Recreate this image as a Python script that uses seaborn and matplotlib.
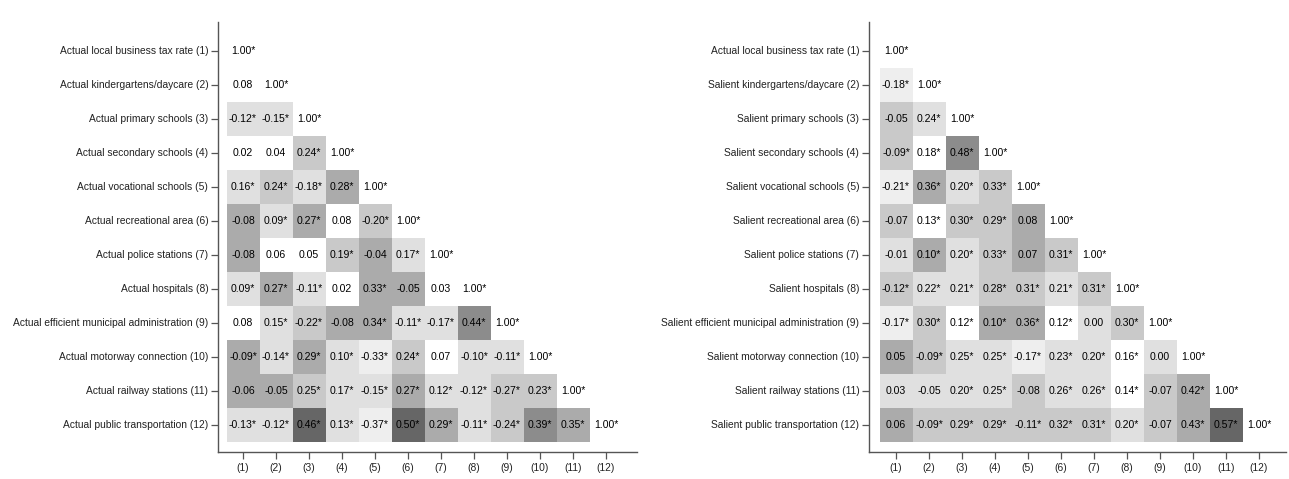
import numpy as np
import pandas as pd
import seaborn as sns
import matplotlib.pyplot as plt
from matplotlib.colors import ListedColormap

sns.set_style("white")
plt.rcParams['font.family'] = ['Liberation Sans', 'DejaVu Sans']

# variable names
actual_labels = [
    "Actual local business tax rate (1)",
    "Actual kindergartens/daycare (2)",
    "Actual primary schools (3)",
    "Actual secondary schools (4)",
    "Actual vocational schools (5)",
    "Actual recreational area (6)",
    "Actual police stations (7)",
    "Actual hospitals (8)",
    "Actual efficient municipal administration (9)",
    "Actual motorway connection (10)",
    "Actual railway stations (11)",
    "Actual public transportation (12)",
]
salient_labels = [
    "Actual local business tax rate (1)",
    "Salient kindergartens/daycare (2)",
    "Salient primary schools (3)",
    "Salient secondary schools (4)",
    "Salient vocational schools (5)",
    "Salient recreational area (6)",
    "Salient police stations (7)",
    "Salient hospitals (8)",
    "Salient efficient municipal administration (9)",
    "Salient motorway connection (10)",
    "Salient railway stations (11)",
    "Salient public transportation (12)",
]
col_labels = [f"({i})" for i in range(1, 13)]

# lower triangle correlations (* = significant)
actual_corr = [
    ["1.00*"],
    ["0.08", "1.00*"],
    ["-0.12*", "-0.15*", "1.00*"],
    ["0.02", "0.04", "0.24*", "1.00*"],
    ["0.16*", "0.24*", "-0.18*", "0.28*", "1.00*"],
    ["-0.08", "0.09*", "0.27*", "0.08", "-0.20*", "1.00*"],
    ["-0.08", "0.06", "0.05", "0.19*", "-0.04", "0.17*", "1.00*"],
    ["0.09*", "0.27*", "-0.11*", "0.02", "0.33*", "-0.05", "0.03", "1.00*"],
    ["0.08", "0.15*", "-0.22*", "-0.08", "0.34*", "-0.11*", "-0.17*", "0.44*", "1.00*"],
    ["-0.09*", "-0.14*", "0.29*", "0.10*", "-0.33*", "0.24*", "0.07", "-0.10*", "-0.11*", "1.00*"],
    ["-0.06", "-0.05", "0.25*", "0.17*", "-0.15*", "0.27*", "0.12*", "-0.12*", "-0.27*", "0.23*", "1.00*"],
    ["-0.13*", "-0.12*", "0.46*", "0.13*", "-0.37*", "0.50*", "0.29*", "-0.11*", "-0.24*", "0.39*", "0.35*", "1.00*"],
]
salient_corr = [
    ["1.00*"],
    ["-0.18*", "1.00*"],
    ["-0.05", "0.24*", "1.00*"],
    ["-0.09*", "0.18*", "0.48*", "1.00*"],
    ["-0.21*", "0.36*", "0.20*", "0.33*", "1.00*"],
    ["-0.07", "0.13*", "0.30*", "0.29*", "0.08", "1.00*"],
    ["-0.01", "0.10*", "0.20*", "0.33*", "0.07", "0.31*", "1.00*"],
    ["-0.12*", "0.22*", "0.21*", "0.28*", "0.31*", "0.21*", "0.31*", "1.00*"],
    ["-0.17*", "0.30*", "0.12*", "0.10*", "0.36*", "0.12*", "0.00", "0.30*", "1.00*"],
    ["0.05", "-0.09*", "0.25*", "0.25*", "-0.17*", "0.23*", "0.20*", "0.16*", "0.00", "1.00*"],
    ["0.03", "-0.05", "0.20*", "0.25*", "-0.08", "0.26*", "0.26*", "0.14*", "-0.07", "0.42*", "1.00*"],
    ["0.06", "-0.09*", "0.29*", "0.29*", "-0.11*", "0.32*", "0.31*", "0.20*", "-0.07", "0.43*", "0.57*", "1.00*"],
]

# grey shade class of every cell (0 = white ... 6 = darkest)
actual_shade = [
    [0],
    [0, 0],
    [2, 2, 0],
    [0, 0, 3, 0],
    [2, 3, 2, 4, 0],
    [4, 2, 4, 0, 3, 0],
    [4, 0, 0, 3, 4, 2, 0],
    [2, 4, 2, 0, 4, 4, 0, 0],
    [0, 2, 3, 4, 4, 2, 2, 5, 0],
    [4, 2, 4, 2, 1, 3, 0, 2, 2, 0],
    [4, 4, 3, 2, 2, 4, 2, 2, 3, 3, 0],
    [2, 2, 6, 2, 1, 6, 4, 2, 3, 5, 4, 0],
]
salient_shade = [
    [0],
    [1, 0],
    [3, 2, 0],
    [3, 0, 5, 0],
    [1, 4, 2, 3, 0],
    [3, 0, 3, 3, 4, 0],
    [2, 4, 2, 3, 4, 3, 0],
    [3, 2, 2, 3, 3, 2, 3, 0],
    [1, 3, 0, 4, 4, 0, 2, 3, 0],
    [4, 3, 2, 2, 1, 2, 2, 0, 2, 0],
    [2, 2, 2, 2, 3, 2, 2, 0, 3, 4, 0],
    [4, 3, 3, 3, 3, 3, 3, 2, 3, 4, 6, 0],
]

greys = ["#ffffff", "#eeeeee", "#e0e0e0", "#c9c9c9", "#ababab", "#8c8c8c", "#666666"]
cmap = ListedColormap(greys)


def to_frames(corr, shade, rows):
    n = len(rows)
    s = np.full((n, n), np.nan)
    a = np.full((n, n), "", dtype=object)
    for i in range(n):
        for j in range(i + 1):
            s[i, j] = shade[i][j]
            a[i, j] = corr[i][j]
    return pd.DataFrame(s, index=rows, columns=col_labels), a


fig = plt.figure(figsize=(12.89, 4.79), dpi=100)
W, H = 1289, 479
panels = [
    (actual_corr, actual_shade, actual_labels, 218, 637, 226.5),
    (salient_corr, salient_shade, salient_labels, 869, 1286, 879.5),
]
cw, ch = 33.0, 34.0
top, bot, row0 = 22, 452, 34.0

for corr, shade, rows, x0, x1, c0 in panels:
    ax = fig.add_axes([x0 / W, (H - bot) / H, (x1 - x0) / W, (bot - top) / H])
    sdf, ann = to_frames(corr, shade, rows)
    sns.heatmap(sdf, mask=sdf.isna(), cmap=cmap, vmin=-0.5, vmax=6.5,
                annot=ann, fmt="", cbar=False, ax=ax,
                annot_kws={"fontsize": 7.6, "color": "black"})
    ax.set_xlim((x0 - c0) / cw, (x1 - c0) / cw)
    ax.set_ylim((bot - row0) / ch, (top - row0) / ch)
    ax.set_xticks(np.arange(12) + 0.5, col_labels, rotation=0)
    ax.set_yticks(np.arange(12) + 0.5, rows, rotation=0)
    ax.set_xlabel("")
    ax.set_ylabel("")
    for side in ["left", "bottom"]:
        ax.spines[side].set_visible(True)
        ax.spines[side].set_color("#555555")
        ax.spines[side].set_linewidth(1.0)
    for side in ["right", "top"]:
        ax.spines[side].set_visible(False)
    ax.tick_params(axis="both", which="major", length=5, width=0.9,
                   color="#555555", labelsize=7.4, labelcolor="#222222",
                   left=True, bottom=True)
    ax.tick_params(axis="y", pad=2)
    ax.tick_params(axis="x", pad=3)

fig.savefig("out.png", dpi=100)
